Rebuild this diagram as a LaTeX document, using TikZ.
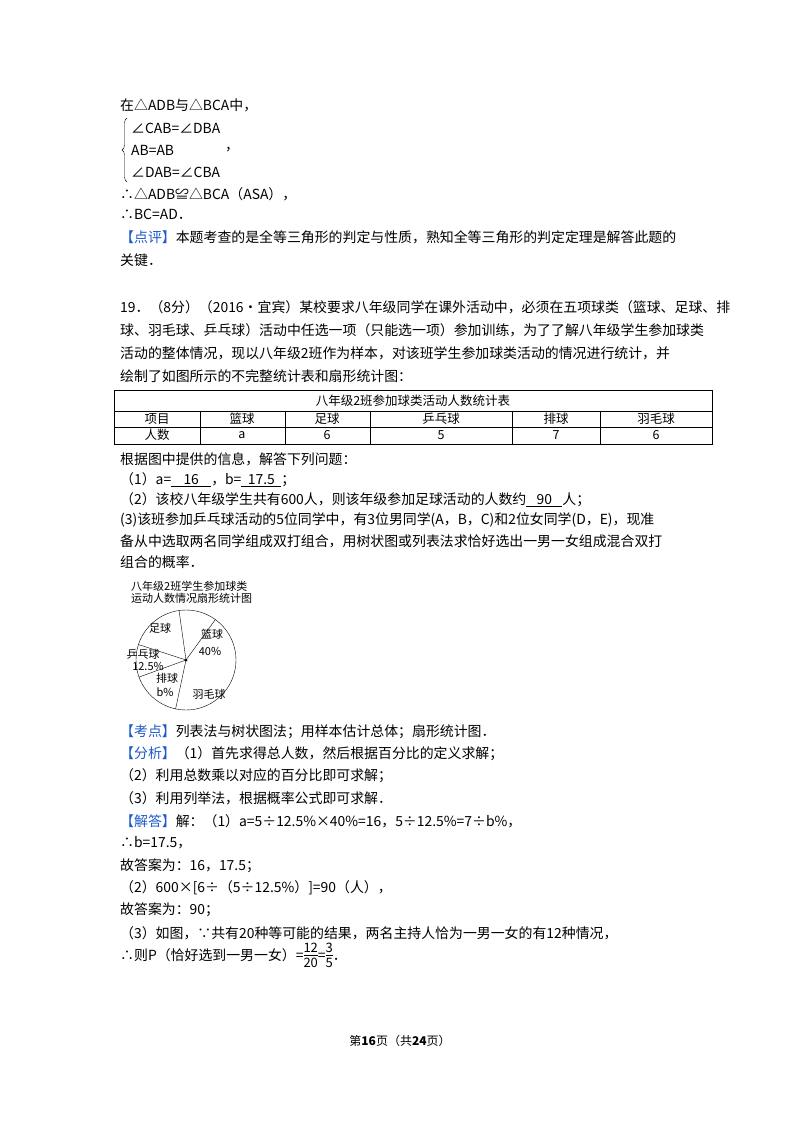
\documentclass[tikz,border=0pt]{standalone}
\usepackage{fontspec}
\usetikzlibrary{decorations.pathreplacing}
\setmainfont{Liberation Serif}
\newfontfamily\cjk{Noto Sans CJK SC}
\definecolor{kblue}{RGB}{30,90,200}
\begin{document}
\begin{tikzpicture}[x=1pt,y=-1pt,
  ln/.style={anchor=west,inner sep=0pt,font=\cjk\fontsize{13.9}{16}\selectfont},
  sm/.style={inner sep=0pt,font=\cjk\fontsize{11}{13}\selectfont},
  cell/.style={inner sep=0pt,font=\cjk\fontsize{12.5}{14}\selectfont}]
\useasboundingbox (0,0) rectangle (800,1132);
\fill[white] (0,0) rectangle (800,1132);
\newcommand\kb[1]{{\color{kblue}【#1】}}
\newcommand\fr[2]{\begin{tabular}{@{}c@{}}{\fontsize{13}{13}\selectfont #1}\\[-2pt]\hline\rule{0pt}{12pt}{\fontsize{13}{13}\selectfont #2}\end{tabular}}
\node[ln] (l1) at (120,105) {在△ADB与△BCA中，};
\coordinate (bt) at (127,118);
\coordinate (bb) at (127,182);
\draw[decorate,decoration={brace,amplitude=5pt}] (bb) -- (bt);
\node[ln] (e1) at (131,128) {∠CAB=∠DBA};
\node[ln] (e2) at (131,150) {AB=AB};
\node[ln] (e3) at (225,150) {，};
\node[ln] (e4) at (131,172) {∠DAB=∠CBA};
\node[ln] (l2) at (120,194) {∴△ADB≌△BCA（ASA），};
\node[ln] (l3) at (120,214) {∴BC=AD．};
\node[ln] (l4) at (120,237) {\kb{点评}本题考查的是全等三角形的判定与性质，熟知全等三角形的判定定理是解答此题的};
\node[ln] (l5) at (120,260) {关键．};
\node[ln] (p1) at (120,307) {19．（8分）（2016•宜宾）某校要求八年级同学在课外活动中，必须在五项球类（篮球、足球、排};
\node[ln] (p2) at (120,330) {球、羽毛球、乒乓球）活动中任选一项（只能选一项）参加训练，为了了解八年级学生参加球类};
\node[ln] (p3) at (120,353) {活动的整体情况，现以八年级2班作为样本，对该班学生参加球类活动的情况进行统计，并};
\node[ln] (p4) at (120,376) {绘制了如图所示的不完整统计表和扇形统计图：};
% table
\draw[line width=0.8pt] (114,390) rectangle (712,444);
\draw (114,411)--(712,411) (114,427)--(712,427);
\foreach \x in {200,285,370,512,600} \draw (\x,411)--(\x,444);
\node[cell] (tt) at (413,401) {八年级2班参加球类活动人数统计表};
\node[cell] (h0) at (157,419) {项目};
\node[cell] (h1) at (242,419) {篮球};
\node[cell] (h2) at (327,419) {足球};
\node[cell] (h3) at (441,419) {乒乓球};
\node[cell] (h4) at (556,419) {排球};
\node[cell] (h5) at (656,419) {羽毛球};
\node[cell] (r0) at (157,435) {人数};
\node[cell] (r1) at (242,435) {a};
\node[cell] (r2) at (327,435) {6};
\node[cell] (r3) at (441,435) {5};
\node[cell] (r4) at (556,435) {7};
\node[cell] (r5) at (656,435) {6};
\node[ln] (q0) at (120,459) {根据图中提供的信息，解答下列问题：};
\node[ln] (q1) at (120,480) {（1）a=\underline{\makebox[40pt]{16}}，b=\underline{\makebox[40pt]{17.5}}；};
\node[ln] (q2) at (120,500) {（2）该校八年级学生共有600人，则该年级参加足球活动的人数约\underline{\makebox[36pt]{90}}人；};
\node[ln] (q3) at (120,520) {(3)该班参加乒乓球活动的5位同学中，有3位男同学(A，B，C)和2位女同学(D，E)，现准};
\node[ln] (q4) at (120,541) {备从中选取两名同学组成双打组合，用树状图或列表法求恰好选出一男一女组成混合双打};
\node[ln] (q5) at (120,562) {组合的概率．};
% pie
\node[sm,anchor=west] (pt1) at (131,586) {八年级2班学生参加球类};
\node[sm,anchor=west] (pt2) at (131,598) {运动人数情况扇形统计图};
\coordinate (c) at (186,660);
\draw (c) circle (50);
\foreach \a in {102,-54,-98,198,160} \draw (c) -- ++(\a:50);
\fill (c) circle (1.5);
\node[sm] (s1) at (212,634) {篮球};
\node[sm] (s1b) at (210,651) {40\%};
\node[sm] (s2) at (160,628) {足球};
\node[sm] (s3) at (143,654) {乒乓球};
\node[sm] (s3b) at (148,666) {12.5\%};
\node[sm] (s4) at (167,678) {排球};
\node[sm] (s4b) at (165,692) {b\%};
\node[sm] (s5) at (209,694) {羽毛球};
% analysis
\node[ln] (k1) at (120,732) {\kb{考点}列表法与树状图法；用样本估计总体；扇形统计图．};
\node[ln] (k2) at (120,754) {\kb{分析}（1）首先求得总人数，然后根据百分比的定义求解；};
\node[ln] (k3) at (120,776) {（2）利用总数乘以对应的百分比即可求解；};
\node[ln] (k4) at (120,798) {（3）利用列举法，根据概率公式即可求解．};
\node[ln] (j1) at (120,821) {\kb{解答}解：（1）a=5÷12.5\%×40\%=16，5÷12.5\%=7÷b\%，};
\node[ln] (j2) at (120,843) {∴b=17.5，};
\node[ln] (j3) at (120,866) {故答案为：16，17.5；};
\node[ln] (j4) at (120,888) {（2）600×[6÷（5÷12.5\%）]=90（人），};
\node[ln] (j5) at (120,910) {故答案为：90；};
\node[ln] (j6) at (120,933) {（3）如图，∵共有20种等可能的结果，两名主持人恰为一男一女的有12种情况，};
\node[ln] (j7) at (120,957) {∴则P（恰好选到一男一女）=\fr{12}{20}=\fr{3}{5}．};
\node[inner sep=0pt,font=\cjk\fontsize{12}{14}\selectfont] (ft) at (400,1041) {第\textbf{16}页（共\textbf{24}页）};
\end{tikzpicture}
\end{document}
